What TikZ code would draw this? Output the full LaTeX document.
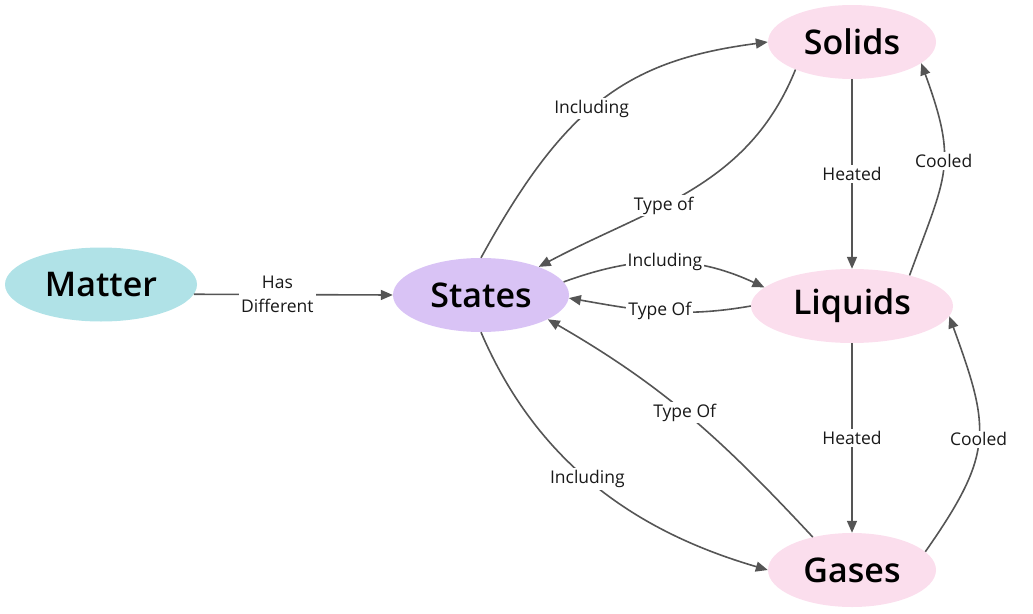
\documentclass[tikz,border=0pt]{standalone}
\usepackage{fontspec}
\setmainfont{Open Sans}
\IfFontExistsTF{Open Sans Semibold}{\newfontfamily\nodefont{Open Sans Semibold}}{\newfontfamily\nodefont{Open Sans}[FakeBold=2.5]}
\usetikzlibrary{shapes.geometric,arrows.meta}
\definecolor{cMatter}{HTML}{B0E2E7}
\definecolor{cStates}{HTML}{D9C3F5}
\definecolor{cPink}{HTML}{FBDEED}
\definecolor{cLine}{HTML}{555555}
\begin{document}
\begin{tikzpicture}[x=1pt,y=1pt,
  concept/.style={ellipse,inner sep=0pt,font=\nodefont\fontsize{34}{38}\selectfont,text=black},
  link/.style={draw=cLine,line width=1.6pt,-{Triangle[length=12pt,width=10pt]}},
  lbl/.style={fill=white,inner sep=2pt,font=\fontsize{17.5}{24}\selectfont,text=black!90,align=center}]
\useasboundingbox (0,0) rectangle (1033,-613);
\node[concept,fill=cMatter,minimum width=192pt,minimum height=74pt] (matter) at (101,-284.5) {Matter};
\node[concept,fill=cStates,minimum width=176pt,minimum height=74pt] (states) at (481,-295) {States};
\node[concept,fill=cPink,minimum width=168pt,minimum height=74pt] (solids) at (852,-42) {Solids};
\node[concept,fill=cPink,minimum width=202pt,minimum height=74pt] (liquids) at (852,-306) {Liquids};
\node[concept,fill=cPink,minimum width=168pt,minimum height=74pt] (gases) at (852,-570) {Gases};

\draw[link] (matter.-6) -- node[lbl,pos=0.42] {Has\\Different} (states.west);
\draw[link] (states.north) .. controls +(85,155) and +(-138,-18) .. node[lbl,pos=0.45] {Including} (solids.west);
\draw[link] (solids.206) to[out=248,in=28] node[lbl,pos=0.6] {Type of} (states.26);
\draw[link] (states.9) to[out=20,in=155] node[lbl] {Including} (liquids.168);
\draw[link] (liquids.west) to[out=190,in=-10] node[lbl] {Type Of} (states.-2);
\draw[link] (gases.140) to[out=133,in=-30] node[lbl,pos=0.52] {Type Of} (states.-20);
\draw[link] (states.south) .. controls +(60,-140) and +(-120,35) .. node[lbl,pos=0.45] {Including} (gases.west);
\draw[link] (solids.south) -- node[lbl] {Heated} (liquids.north);
\draw[link] (liquids.south) -- node[lbl] {Heated} (gases.north);
\draw[link] (liquids.28) to[out=70,in=-70,looseness=1.3] node[lbl,pos=0.55] {Cooled} (solids.-17);
\draw[link] (gases.14) to[out=55,in=-70,looseness=1.3] node[lbl] {Cooled} (liquids.-6);
\end{tikzpicture}
\end{document}
